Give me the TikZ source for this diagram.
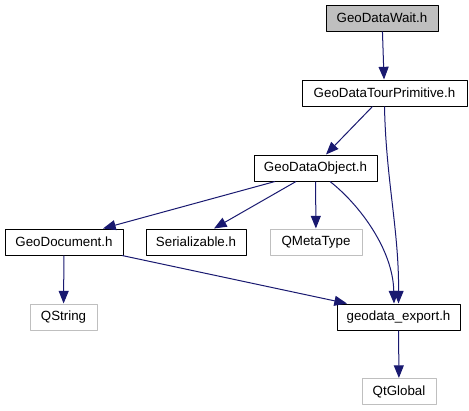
\documentclass[tikz,border=0pt]{standalone}
\usepackage{fontspec}
\setmainfont{Liberation Sans}
\usetikzlibrary{calc,arrows.meta}
\newcommand{\Px}{0.75pt}
\newcommand{\Edge}{0.75pt}
\definecolor{edgeblue}{HTML}{191970}
\definecolor{missing}{HTML}{BFBFBF}

\tikzset{
  hdr/.style={draw=black, line width=\Edge, inner sep=0pt,
    minimum height=26*\Px, font=\fontsize{10}{12}\selectfont},
  hdrroot/.style={hdr, fill=missing},
  hdrext/.style={hdr, draw=missing},
  dep/.style={draw=edgeblue, line width=\Edge,
    -{Triangle[length=9.5pt,width=7.5pt]}}
}

\begin{document}
\begin{tikzpicture}[x=\Px,y=-\Px, line join=round]

  % ---- frame: the page is the picture, margins and all. -------------------
  \useasboundingbox (0,0) rectangle (469,411);

  % ---- headers ------------------------------------------------------------
  \node[hdrroot, minimum width=112*\Px] (wait)   at (382,18)    {GeoDataWait.h};
  \node[hdr,     minimum width=165*\Px] (tour)   at (384.5,93)  {GeoDataTourPrimitive.h};
  \node[hdr,     minimum width=123*\Px] (obj)    at (315.5,168) {GeoDataObject.h};
  \node[hdr,     minimum width=118*\Px] (doc)    at (64,242)    {GeoDocument.h};
  \node[hdr,     minimum width=100*\Px] (ser)    at (196,242)   {Serializable.h};
  \node[hdrext,  minimum width=92*\Px]  (qmeta)  at (316,242)   {QMetaType};
  \node[hdrext,  minimum width=67*\Px]  (qstr)   at (63.5,317)  {QString};
  \node[hdr,     minimum width=123*\Px] (export) at (398.5,317) {geodata\_export.h};
  \node[hdrext,  minimum width=74*\Px]  (qtglob) at (399,391.5) {QtGlobal};

  % ---- includes -----------------------------------------------------------
  \draw[dep] (wait) -- (tour);
  \draw[dep] ($(tour.south)+(-12,0)$) -- ($(obj.north)+(10.5,0)$);
  % The long one, bending only a little on its way down the right side.
  \draw[dep] (tour.south) .. controls (386,180) and (399,230) .. (export.north);

  \draw[dep] ($(obj.south)+(-40.5,0)$) -- ($(doc.north)+(39,0)$);
  \draw[dep] ($(obj.south)+(-19.5,0)$) -- ($(ser.north)+(18,0)$);
  \draw[dep] (obj) -- (qmeta);
  \draw[dep] ($(obj.south)+(14.5,0)$) .. controls (360,205) and (393,250)
    .. ($(export.north)+(-4.5,0)$);

  \draw[dep] (doc) -- (qstr);
  \draw[dep] ($(doc.south)+(58,0)$) -- ($(export.north)+(-51.5,0)$);

  \draw[dep] (export) -- (qtglob);

\end{tikzpicture}
\end{document}
